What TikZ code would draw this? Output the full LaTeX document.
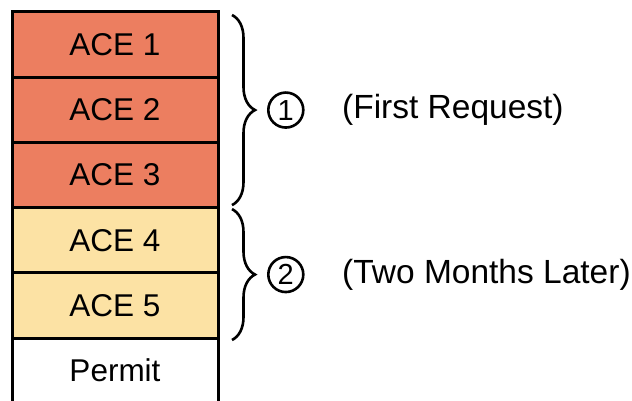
\documentclass[tikz,border=0pt]{standalone}
\usepackage{fontspec}
\setmainfont{Liberation Sans}
\usetikzlibrary{positioning,calc,decorations.pathreplacing}

\definecolor{firstred}{HTML}{EC7E60}
\definecolor{lateryellow}{HTML}{FCE2A4}
\tikzset{
  entry/.style={draw=black,line width=3pt,outer sep=0pt,inner sep=0pt,
    minimum width=206pt,minimum height=65.2pt},
  grp/.style={decorate,decoration={brace,amplitude=23pt},line width=2.6pt},
  num/.style={circle,draw,line width=2.6pt,minimum size=35pt,inner sep=0pt,
    font=\fontsize{29}{32}\selectfont},
}

\begin{document}
\begin{tikzpicture}[x=1pt,y=1pt,font=\fontsize{31.5}{36}\selectfont]
  \useasboundingbox (0,0) rectangle (632,400);
  % the access list, top to bottom
  \foreach \i/\col in {1/firstred,2/firstred,3/firstred,4/lateryellow,5/lateryellow} {
    \node[entry,fill=\col] (ace\i) at (115,{355.4-65.2*(\i-1)}) {ACE \i};
  }
  \node[entry,fill=white,below=0pt of ace5] (permit) {Permit};

  % groups
  \coordinate (b1top) at ($(ace1.north east)+(14,-3)$);
  \coordinate (b1bot) at ($(ace3.south east)+(14,2.5)$);
  \coordinate (b2top) at ($(ace4.north east)+(14,-1.5)$);
  \coordinate (b2bot) at ($(ace5.south east)+(14,-2)$);
  \draw[grp] (b1top) -- (b1bot);
  \draw[grp] (b2top) -- (b2bot);
  \coordinate (m1) at ($(b1top)!0.5!(b1bot)$);
  \coordinate (m2) at ($(b2top)!0.5!(b2bot)$);
  \node[num,right=35pt of m1] (c1) {1};
  \node[num,right=35pt of m2] (c2) {2};
  \node[font=\fontsize{33.5}{38}\selectfont,right=34pt of c1] (lab1) {(First Request)};
  \node[font=\fontsize{33.5}{38}\selectfont,right=34pt of c2] (lab2) {(Two Months Later)};
\end{tikzpicture}
\end{document}
